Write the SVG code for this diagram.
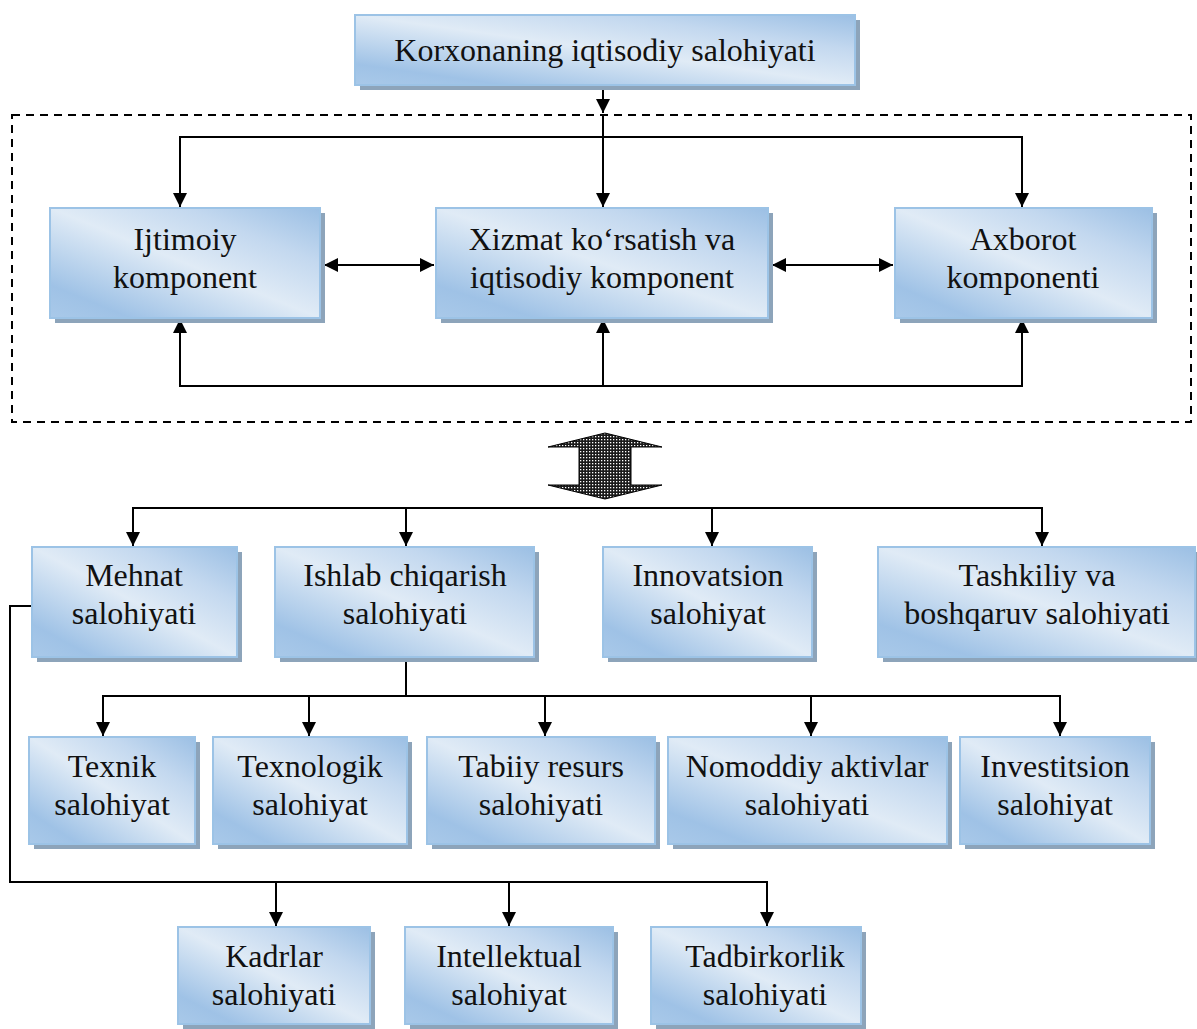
<svg xmlns="http://www.w3.org/2000/svg" width="1197" height="1029" viewBox="0 0 1197 1029">
  <defs>
    <linearGradient id="boxFill" x1="0" y1="1" x2="1" y2="0">
      <stop offset="0" stop-color="#a9c9e9"/>
      <stop offset="0.15" stop-color="#9fc2e6"/>
      <stop offset="0.5" stop-color="#e0ebf6"/>
      <stop offset="0.75" stop-color="#c3d8ef"/>
      <stop offset="1" stop-color="#9bbfe4"/>
    </linearGradient>
    <pattern id="grain" width="3" height="3" patternUnits="userSpaceOnUse">
      <rect width="3" height="3" fill="#1a1a1a"/>
      <rect x="1" y="1" width="1.3" height="1.3" fill="#ffffff"/>
    </pattern>
    <marker id="arrow" viewBox="0 0 14 14" refX="14" refY="7" markerWidth="14" markerHeight="14" markerUnits="userSpaceOnUse" orient="auto-start-reverse">
      <path d="M0,0 L14,7 L0,14 Z" fill="#000"/>
    </marker>
  </defs>
  <style>
    .shadow { fill: #8da4ba; }
    .box { fill: url(#boxFill); stroke: #9cc3e6; stroke-width: 2; }
    .lbl { font-family: "Liberation Serif", "Times New Roman", serif; font-size: 32px; fill: #111; text-anchor: middle; }
    .conn { fill: none; stroke: #000; stroke-width: 2; }
    .frame { fill: none; stroke: #000; stroke-width: 2; stroke-dasharray: 8 6; }
  </style>

  <rect width="1197" height="1029" fill="#fff"/>

  <!-- dashed frame around the component block -->
  <rect class="frame" x="12" y="115" width="1179" height="307"/>

  <!-- connectors -->
  <g id="connectors">
    <path class="conn" d="M603,86 V113" marker-end="url(#arrow)"/>
    <path class="conn" d="M180,137 H1022"/>
    <path class="conn" d="M603,115 V207" marker-end="url(#arrow)"/>
    <path class="conn" d="M180,136 V207" marker-end="url(#arrow)"/>
    <path class="conn" d="M1022,136 V207" marker-end="url(#arrow)"/>
    <path class="conn" d="M180,386 H1022"/>
    <path class="conn" d="M180,387 V319" marker-end="url(#arrow)"/>
    <path class="conn" d="M603,387 V319" marker-end="url(#arrow)"/>
    <path class="conn" d="M1022,387 V319" marker-end="url(#arrow)"/>
    <path class="conn" d="M324,265 H434" marker-start="url(#arrow)" marker-end="url(#arrow)"/>
    <path class="conn" d="M772,265 H893" marker-start="url(#arrow)" marker-end="url(#arrow)"/>

    <!-- broad two-way arrow between the blocks -->
    <polygon points="605,433 662,447 631,447 631,485 662,485 605,499 548,485 579,485 579,447 548,447" fill="url(#grain)" stroke="#000" stroke-width="1"/>

    <path class="conn" d="M133,508 H1042"/>
    <path class="conn" d="M133,507 V546" marker-end="url(#arrow)"/>
    <path class="conn" d="M406,507 V546" marker-end="url(#arrow)"/>
    <path class="conn" d="M712,507 V546" marker-end="url(#arrow)"/>
    <path class="conn" d="M1042,507 V546" marker-end="url(#arrow)"/>

    <path class="conn" d="M406,658 V696"/>
    <path class="conn" d="M103,696 H1060"/>
    <path class="conn" d="M103,695 V736" marker-end="url(#arrow)"/>
    <path class="conn" d="M309,695 V736" marker-end="url(#arrow)"/>
    <path class="conn" d="M545,695 V736" marker-end="url(#arrow)"/>
    <path class="conn" d="M811,695 V736" marker-end="url(#arrow)"/>
    <path class="conn" d="M1060,695 V736" marker-end="url(#arrow)"/>

    <path class="conn" d="M32,606 H10 V882 H767"/>
    <path class="conn" d="M276,881 V926" marker-end="url(#arrow)"/>
    <path class="conn" d="M509,881 V926" marker-end="url(#arrow)"/>
    <path class="conn" d="M767,881 V926" marker-end="url(#arrow)"/>
  </g>

  <!-- top node -->
  <g id="n-korxona">
    <rect class="shadow" x="360" y="20" width="500" height="70"/>
    <rect class="box" x="355" y="15" width="500" height="70"/>
    <text class="lbl" x="605" y="61">Korxonaning iqtisodiy salohiyati</text>
  </g>

  <!-- component row -->
  <g id="n-ijtimoiy">
    <rect class="shadow" x="55" y="213" width="270" height="110"/>
    <rect class="box" x="50" y="208" width="270" height="110"/>
    <text class="lbl" x="185" y="250">Ijtimoiy</text>
    <text class="lbl" x="185" y="288">komponent</text>
  </g>
  <g id="n-xizmat">
    <rect class="shadow" x="441" y="213" width="332" height="110"/>
    <rect class="box" x="436" y="208" width="332" height="110"/>
    <text class="lbl" x="602" y="250">Xizmat ko‘rsatish va</text>
    <text class="lbl" x="602" y="288">iqtisodiy komponent</text>
  </g>
  <g id="n-axborot">
    <rect class="shadow" x="900" y="213" width="257" height="110"/>
    <rect class="box" x="895" y="208" width="257" height="110"/>
    <text class="lbl" x="1023" y="250">Axborot</text>
    <text class="lbl" x="1023" y="288">komponenti</text>
  </g>

  <!-- potential types -->
  <g id="n-mehnat">
    <rect class="shadow" x="37" y="552" width="205" height="110"/>
    <rect class="box" x="32" y="547" width="205" height="110"/>
    <text class="lbl" x="134" y="586">Mehnat</text>
    <text class="lbl" x="134" y="624">salohiyati</text>
  </g>
  <g id="n-ishlab">
    <rect class="shadow" x="280" y="552" width="259" height="110"/>
    <rect class="box" x="275" y="547" width="259" height="110"/>
    <text class="lbl" x="405" y="586">Ishlab chiqarish</text>
    <text class="lbl" x="405" y="624">salohiyati</text>
  </g>
  <g id="n-innovatsion">
    <rect class="shadow" x="608" y="552" width="209" height="110"/>
    <rect class="box" x="603" y="547" width="209" height="110"/>
    <text class="lbl" x="708" y="586">Innovatsion</text>
    <text class="lbl" x="708" y="624">salohiyat</text>
  </g>
  <g id="n-tashkiliy">
    <rect class="shadow" x="883" y="552" width="317" height="110"/>
    <rect class="box" x="878" y="547" width="317" height="110"/>
    <text class="lbl" x="1037" y="586">Tashkiliy va</text>
    <text class="lbl" x="1037" y="624">boshqaruv salohiyati</text>
  </g>

  <!-- production sub-types -->
  <g id="n-texnik">
    <rect class="shadow" x="34" y="742" width="166" height="107"/>
    <rect class="box" x="29" y="737" width="166" height="107"/>
    <text class="lbl" x="112" y="777">Texnik</text>
    <text class="lbl" x="112" y="815">salohiyat</text>
  </g>
  <g id="n-texnologik">
    <rect class="shadow" x="218" y="742" width="194" height="107"/>
    <rect class="box" x="213" y="737" width="194" height="107"/>
    <text class="lbl" x="310" y="777">Texnologik</text>
    <text class="lbl" x="310" y="815">salohiyat</text>
  </g>
  <g id="n-tabiiy">
    <rect class="shadow" x="432" y="742" width="228" height="107"/>
    <rect class="box" x="427" y="737" width="228" height="107"/>
    <text class="lbl" x="541" y="777">Tabiiy resurs</text>
    <text class="lbl" x="541" y="815">salohiyati</text>
  </g>
  <g id="n-nomoddiy">
    <rect class="shadow" x="673" y="742" width="279" height="107"/>
    <rect class="box" x="668" y="737" width="279" height="107"/>
    <text class="lbl" x="807" y="777">Nomoddiy aktivlar</text>
    <text class="lbl" x="807" y="815">salohiyati</text>
  </g>
  <g id="n-investitsion">
    <rect class="shadow" x="965" y="742" width="190" height="107"/>
    <rect class="box" x="960" y="737" width="190" height="107"/>
    <text class="lbl" x="1055" y="777">Investitsion</text>
    <text class="lbl" x="1055" y="815">salohiyat</text>
  </g>

  <!-- labour sub-types -->
  <g id="n-kadrlar">
    <rect class="shadow" x="183" y="932" width="192" height="97"/>
    <rect class="box" x="178" y="927" width="192" height="97"/>
    <text class="lbl" x="274" y="967">Kadrlar</text>
    <text class="lbl" x="274" y="1005">salohiyati</text>
  </g>
  <g id="n-intellektual">
    <rect class="shadow" x="410" y="932" width="208" height="97"/>
    <rect class="box" x="405" y="927" width="208" height="97"/>
    <text class="lbl" x="509" y="967">Intellektual</text>
    <text class="lbl" x="509" y="1005">salohiyat</text>
  </g>
  <g id="n-tadbirkorlik">
    <rect class="shadow" x="656" y="932" width="210" height="97"/>
    <rect class="box" x="651" y="927" width="210" height="97"/>
    <text class="lbl" x="765" y="967">Tadbirkorlik</text>
    <text class="lbl" x="765" y="1005">salohiyati</text>
  </g>
</svg>
